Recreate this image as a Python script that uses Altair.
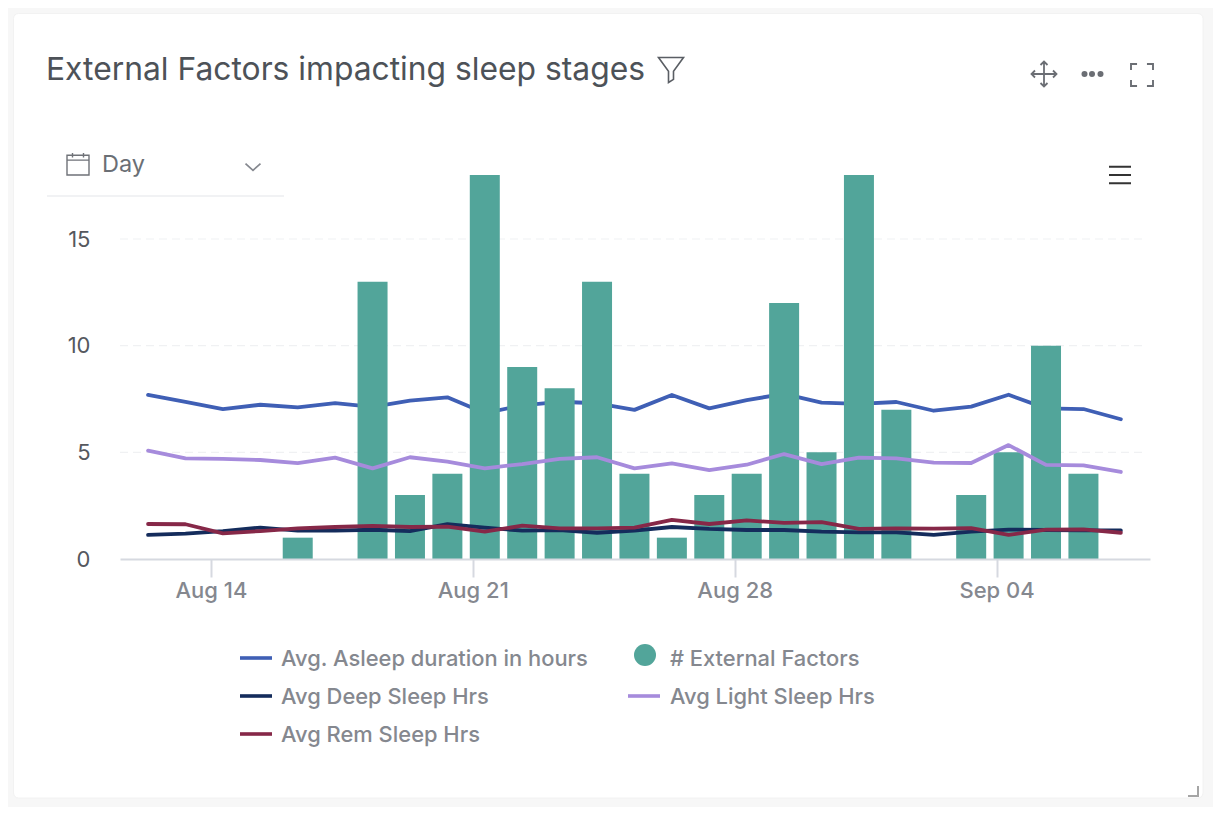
import altair as alt
import pandas as pd

dates = pd.date_range("2023-08-12", periods=27).strftime("%Y-%m-%dT00:00:00").tolist()
external_factors = [0, 0, 0, 0, 1, 0, 13, 3, 4, 18, 9, 8, 13, 4, 1, 3, 4, 12, 5, 18, 7, 0, 3, 5, 10, 4, 0]
asleep = [7.69, 7.37, 7.03, 7.23, 7.11, 7.31, 7.13, 7.42, 7.58, 6.84, 7.2, 7.37, 7.3, 6.99, 7.69, 7.06, 7.45, 7.74, 7.33, 7.27, 7.36, 6.95, 7.14, 7.7, 7.06, 7.03, 6.55]
light = [5.08, 4.72, 4.69, 4.64, 4.49, 4.75, 4.25, 4.77, 4.56, 4.25, 4.45, 4.69, 4.77, 4.25, 4.48, 4.17, 4.42, 4.92, 4.45, 4.75, 4.72, 4.52, 4.5, 5.34, 4.41, 4.39, 4.08]
rem = [1.64, 1.63, 1.2, 1.31, 1.44, 1.5, 1.55, 1.5, 1.52, 1.28, 1.56, 1.44, 1.44, 1.47, 1.83, 1.64, 1.81, 1.69, 1.73, 1.41, 1.44, 1.42, 1.45, 1.13, 1.38, 1.39, 1.23]
deep = [1.13, 1.19, 1.31, 1.47, 1.33, 1.33, 1.37, 1.31, 1.63, 1.47, 1.33, 1.35, 1.23, 1.33, 1.5, 1.41, 1.36, 1.36, 1.28, 1.25, 1.25, 1.13, 1.28, 1.38, 1.36, 1.34, 1.34]
y_ticks = [0, 5, 10, 15]
title_text = "External Factors impacting sleep stages"
names = ["Avg. Asleep duration in hours", "# External Factors", "Avg Deep Sleep Hrs", "Avg Light Sleep Hrs", "Avg Rem Sleep Hrs"]

BLUE, TEAL, NAVY, PURPLE, MAROON = "#3f5fb5", "#52a59a", "#142c5c", "#a68bdc", "#862848"
FONT = "Inter"
OX, OY = 120, 175          # page position of the plot area
PW, PH = 1030, 384


def px(x):
    return x - OX


def py(y):
    return y - OY


df = pd.DataFrame({"date": dates, "factors": external_factors, "asleep": asleep,
                   "light": light, "rem": rem, "deep": deep})

x_enc = alt.X("date:T", title=None,
              scale=alt.Scale(padding=0,
                              domain=[alt.DateTime(year=2023, month=8, date=11, hours=6),
                                      alt.DateTime(year=2023, month=9, date=7, hours=18, minutes=42)]),
              axis=alt.Axis(values=[alt.DateTime(year=2023, month=8, date=13, hours=16, minutes=18),
                                    alt.DateTime(year=2023, month=8, date=20, hours=16, minutes=18),
                                    alt.DateTime(year=2023, month=8, date=27, hours=16, minutes=18),
                                    alt.DateTime(year=2023, month=9, date=3, hours=16, minutes=18)],
                            labelExpr="timeFormat(time(datum.value) + 27720000, '%b %d')",
                            grid=False, zindex=1, domainColor="#d6d9e0", domainWidth=2,
                            tickColor="#d6d9e0", tickWidth=2, tickSize=18, labelPadding=3,
                            labelFont=FONT, labelFontSize=22, labelColor="#85888f", labelFontWeight=500,
                            labelOverlap=False))
y_scale = alt.Scale(domain=[0, 18], nice=False)
y_axis = alt.Axis(values=y_ticks, grid=False, domain=False, ticks=False, zindex=1, labelPadding=30,
                  labelFont=FONT, labelFontSize=22, labelColor="#55585e")


def y_of(field):
    return alt.Y(f"{field}:Q", title=None, scale=y_scale, axis=y_axis)


def line(field, color):
    return alt.Chart(df).mark_line(color=color, strokeWidth=3.8, strokeJoin="round", strokeCap="round").encode(
        x=x_enc, y=y_of(field))


def text(label, x, y, size, color, weight=400, align="left"):
    return alt.Chart(pd.DataFrame({"t": [label]})).mark_text(
        font=FONT, fontSize=size, color=color, fontWeight=weight, align=align, baseline="middle"
    ).encode(text="t:N", x=alt.value(px(x)), y=alt.value(py(y)))


def icon(path, cx, cy, span, color, sw=1.8):
    return alt.Chart(pd.DataFrame({"i": [0]})).mark_point(
        shape=path, size=span ** 2, filled=False, stroke=color, strokeWidth=sw, opacity=1
    ).encode(x=alt.value(px(cx)), y=alt.value(py(cy)))


def dot(cx, cy, d, color):
    return alt.Chart(pd.DataFrame({"i": [0]})).mark_point(
        shape="circle", size=d ** 2, filled=True, color=color, opacity=1
    ).encode(x=alt.value(px(cx)), y=alt.value(py(cy)))


def rule(x1, x2, y1, y2, color, sw):
    return alt.Chart(pd.DataFrame({"i": [0]})).mark_rule(color=color, strokeWidth=sw).encode(
        x=alt.value(px(x1)), x2=alt.value(px(x2)), y=alt.value(py(y1)), y2=alt.value(py(y2)))


card = alt.Chart(pd.DataFrame({"i": [0]})).mark_rect(
    fill="white", stroke="#f2f2f2", strokeWidth=1, cornerRadius=5
).encode(x=alt.value(px(13.5)), x2=alt.value(px(1203)), y=alt.value(py(13.5)), y2=alt.value(py(798)))

grid = alt.Chart(pd.DataFrame({"tick": y_ticks[1:]})).mark_rule(
    color="#f0f1f3", strokeWidth=1.2, strokeDash=[8, 5]
).encode(y=y_of("tick"), x=alt.value(0), x2=alt.value(px(1146)))

bars = alt.Chart(df[df.factors > 0]).mark_bar(color=TEAL, width=30).encode(x=x_enc, y=y_of("factors"))

LEG = 21.9
legend_layers = []
for label, color, lx, ly in [(names[0], BLUE, 240, 658), (names[2], NAVY, 240, 696), (names[4], MAROON, 240, 734)]:
    legend_layers += [rule(lx, lx + 32, ly, ly, color, 3.6), text(label, lx + 41, ly + 0.5, LEG, "#85888f", 500)]
legend_layers += [dot(645, 655, 22, TEAL), text(names[1], 670, 658.5, LEG, "#85888f", 500),
                  rule(628, 660, 696, 696, PURPLE, 3.6), text(names[3], 670, 696.5, LEG, "#85888f", 500)]

icons = [
    icon("M-1,-1 L1,-1 L0.2,0.1 L0.2,0.75 L-0.2,1 L-0.2,0.1 Z", 671, 70, 25, "#5a5e64", 1.6),
    icon("M-1,0 L1,0 M0,-1 L0,1 M-.72,-.28 L-1,0 L-.72,.28 M.72,-.28 L1,0 L.72,.28 M-.28,-.72 L0,-1 L.28,-.72 M-.28,.72 L0,1 L.28,.72",
         1044, 74, 25, "#6b6e74", 1.8),
    dot(1084.5, 74, 6, "#6b6e74"), dot(1092, 74, 6, "#6b6e74"), dot(1100.5, 74, 6, "#6b6e74"),
    icon("M-1,-.45 L-1,-1 L-.45,-1 M.45,-1 L1,-1 L1,-.45 M1,.45 L1,1 L.45,1 M-.45,1 L-1,1 L-1,.45",
         1142, 75, 22, "#6b6e74", 1.9),
    icon("M-1,-.75 L1,-.75 M-1,0 L1,0 M-1,.75 L1,.75", 1120, 175, 22, "#333333", 2),
    icon("M-1,-.8 L1,-.8 L1,1 L-1,1 Z M-1,-.35 L1,-.35 M-.5,-1 L-.5,-.6 M.5,-1 L.5,-.6", 78, 164, 22, "#6f7278", 1.4),
    icon("M-1,-.45 L0,.45 L1,-.45", 253, 167, 15, "#85888f", 1.7),
    icon("M1,-1 L1,1 L-1,1", 1193, 791, 10, "#a5a5a5", 2),
    rule(47, 284, 196, 196, "#eceef0", 1.5),
    text("Day", 102, 165, 23.5, "#6b6f75"),
]

chart = alt.layer(
    card, grid, line("asleep", BLUE), bars,
    line("deep", NAVY), line("light", PURPLE), line("rem", MAROON),
    *legend_layers, *icons
).properties(
    width=PW, height=PH, background="#f7f7f7",
    title=alt.TitleParams(title_text, anchor="start", frame="group", dx=px(46), offset=0, dy=74,
                          font=FONT, fontSize=31.8, fontWeight=400, color="#4d5258"),
    padding={"left": OX - 8, "top": OY - 8, "right": 1213 - OX - PW, "bottom": 807 - OY - PH},
    autosize=alt.AutoSizeParams(type="none"),
).configure_view(stroke=None)

chart.save("out.html", embed_options={"renderer": "svg", "actions": False})
